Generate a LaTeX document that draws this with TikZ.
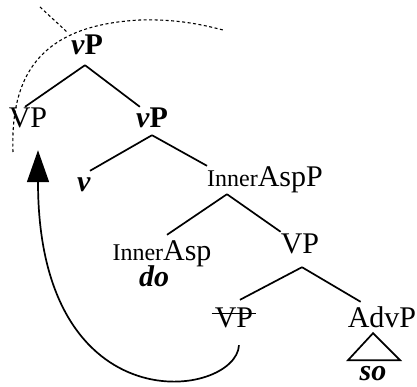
\documentclass[tikz,border=0pt]{standalone}
\usepackage{fontspec}
\setmainfont{Liberation Serif}
\usetikzlibrary{positioning,arrows.meta}

\tikzset{%
  % Specifications for style of nodes:
      treenode/.style = {inner sep=0pt, text height=21pt, text depth=7pt, font=\fontsize{30}{36}\selectfont},
        branch/.style = {line width=1.7pt},
         trace/.style = {line width=1.1pt, dash pattern=on 3pt off 2.5pt},
}
\newcommand{\inr}{{\fontsize{24}{28}\selectfont Inner}}

\begin{document}
\begin{tikzpicture}[x=1pt, y=-1pt, on grid, every node/.style={treenode}]
    \useasboundingbox (0,0) rectangle (417,387);
    % Draw nodes
    \node (vPtop)       at (87,48)                                {\textbf{\textit{v}P}};
    \node (VPtop)       [below left=73pt and 59pt of vPtop]      {VP};
    \node (vPmid)       [below right=73pt and 65pt of vPtop]     {\textbf{\textit{v}P}};
    \node (vhead)       [below left=64pt and 68pt of vPmid]      {\textbf{\textit{v}}};
    \node (innerAspP)   [below right=59pt and 113pt of vPmid]    {\inr AspP};
    \node (innerAsp)    [below left=73pt and 103pt of innerAspP] {\inr Asp};
    \node (doword)      [below left=26pt and 8pt of innerAsp]    {\textbf{\textit{do}}};
    \node (VPlow)       [below right=66pt and 35pt of innerAspP] {VP};
    \node (VPcopy)      [below left=74pt and 66pt of VPlow]      {VP};
    \node (advP)        [below right=74pt and 82pt of VPlow]     {AdvP};
    \node (soword)      [below left=53pt and 9pt of advP]        {\textbf{\textit{so}}};

    % Draw branches
    \draw[branch]  ([shift={(-2,3)}]vPtop.south) -- ([xshift=-3pt]VPtop.north);
    \draw[branch]  ([shift={(-2,3)}]vPtop.south) -- ([xshift=4pt]vPmid.north west);
    \draw[branch]           (vPmid.south) -- ([xshift=6pt]vhead.north);
    \draw[branch]           (vPmid.south) -- (innerAspP.north west);
    \draw[branch]  ([xshift=20pt]innerAspP.south west) -- ([shift={(5,-4)}]innerAsp.north);
    \draw[branch]  ([xshift=20pt]innerAspP.south west) -- (VPlow.north west);
    \draw[branch]  ([shift={(2,7)}]VPlow.south) -- ([shift={(6,-6)}]VPcopy.north);
    \draw[branch]  ([shift={(2,7)}]VPlow.south) -- ([shift={(13,-4)}]advP.north west);
    \draw[branch]  ([shift={(-9,-1)}]advP.south) -- ++(-25,27) -- ++(52,0) -- cycle;
    \draw[line width=1.3pt] ([shift={(-3,-6.5)}]VPcopy.west) -- ([shift={(3,-6.5)}]VPcopy.east);

    % Draw movement arrow
    \draw[branch,-{Triangle[length=32pt,width=22pt]}] ([shift={(5,11)}]VPcopy.south)
        .. controls (236,398) and (38,428) .. ([shift={(10,15)}]VPtop.south);

    % Draw dashed boundary
    \draw[trace] (13,152) .. controls (10,70) and (45,25) .. (140,20)
                          .. controls (175,19) and (200,24) .. (223,30);
    \draw[trace] (40,7) -- (67,32);
\end{tikzpicture}
\end{document}
